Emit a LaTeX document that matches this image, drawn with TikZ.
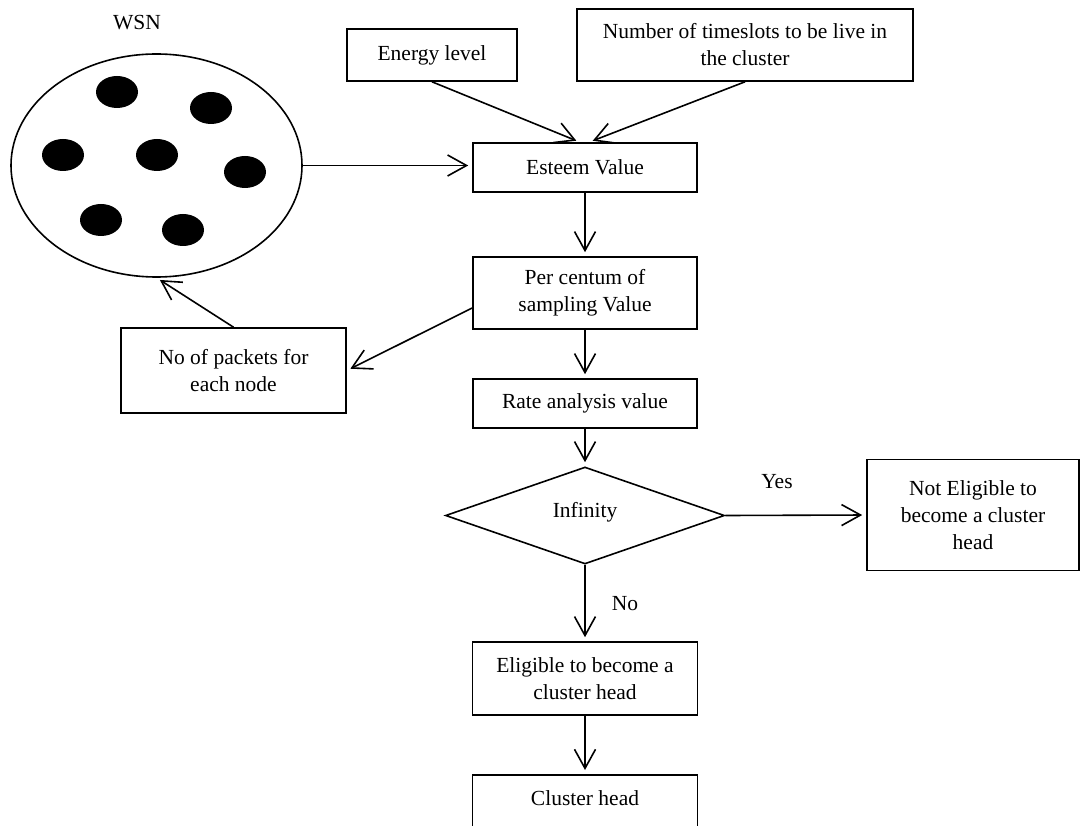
\documentclass[tikz,border=0pt]{standalone}
\usepackage{fontspec}
\setmainfont{Liberation Serif}
\usepackage{tikz}
\usetikzlibrary{arrows.meta,shapes}

\tikzset{
    txt/.style={font=\fontsize{21.5}{27}\selectfont, align=center},
    box/.style={txt, draw, line width=1.6pt, inner sep=0pt},
    flow/.style={-{Straight Barb[length=19pt,width=21pt,line width=1.6pt]}, line width=1.6pt, shorten >=4pt}
}

\begin{document}
\begin{tikzpicture}[x=1pt,y=-1pt]
    \useasboundingbox (0,0) rectangle (1081,826);
    \node[txt] (wsnlabel) at (137,23) {WSN};
    \node[draw, line width=1.6pt, ellipse, minimum width=291pt, minimum height=223pt, inner sep=0pt] (wsn) at (156.5,165.5) {};
    \foreach \x/\y in {117/92, 211/108, 63/155, 157/155, 245/172, 101/220, 183/230}
        \fill (\x,\y) ellipse (21pt and 16pt);
    \node[box, minimum width=170pt, minimum height=52pt] (energy) at (432,55) {Energy level};
    \node[box, minimum width=336pt, minimum height=72pt] (slots) at (745,45) {Number of timeslots to be live in\\the cluster};
    \node[box, minimum width=224pt, minimum height=49pt] (esteem) at (585,167.5) {Esteem Value};
    \node[box, minimum width=224pt, minimum height=72pt] (percent) at (585,293) {Per centum of\\sampling Value};
    \node[box, minimum width=225pt, minimum height=85pt] (packets) at (233.5,370.5) {No of packets for\\each node};
    \node[box, minimum width=224pt, minimum height=49pt] (rate) at (585,403.5) {Rate analysis value};
    \node[box, diamond, aspect=2.88, minimum width=279pt, minimum height=97pt, text depth=12pt] (inf) at (585,515.5) {Infinity};
    \node[box, minimum width=212pt, minimum height=111pt] (noteligible) at (973,515) {Not Eligible to\\become a cluster\\head};
    \node[box, minimum width=225pt, minimum height=73pt] (eligible) at (585,678.5) {Eligible to become a\\cluster head};
    \node[box, anchor=north, minimum width=225pt, text height=31pt, text depth=30pt] (head) at (585,774) {Cluster head};
    \node[txt] (yes) at (777,482) {Yes};
    \node[txt] (no) at (625,604) {No};

    \draw[flow] (wsn.east) -- (wsn.east -| esteem.west);
    \draw[flow] (energy.south) -- ([xshift=-5pt]esteem.north);
    \draw[flow] (slots.south) -- ([xshift=4pt]esteem.north);
    \draw[flow] (esteem.south) -- (percent.north);
    \draw[flow] ([yshift=-15pt]percent.west) -- (packets.east);
    \draw[flow] (packets.north) -- (wsn.south);
    \draw[flow] (percent.south) -- (rate.north);
    \draw[flow] (rate.south) -- (inf.north);
    \draw[flow] (inf.east) -- (noteligible.west);
    \draw[flow] (inf.south) -- (eligible.north);
    \draw[flow] (eligible.south) -- (head.north);
\end{tikzpicture}
\end{document}
